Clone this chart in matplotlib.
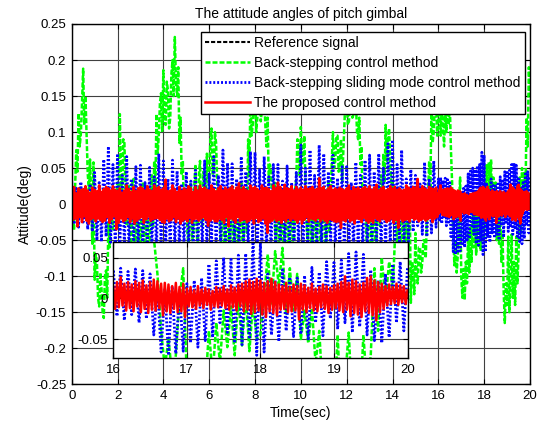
import numpy as np
import matplotlib
matplotlib.use("Agg")
import matplotlib.pyplot as plt

plt.rcParams['font.family'] = ['Liberation Sans', 'DejaVu Sans']
plt.rcParams['font.size'] = 10

# sampling grids (s): coarse part up to 16 s, finer part 16-20 s (zoomed window)
t_red = np.concatenate([np.arange(320) * 0.05, 16 + np.arange(161) * 0.025])
t_blue = np.concatenate([np.arange(160) * 0.1, 16 + np.arange(81) * 0.05])
t_green = np.arange(401) * 0.05

# values in 1e-3 deg
red_main = [
    18, -22, 24, -20, 15, -31, 22, -18, 20, -25,
    21, -17, 25, -23, 19, -27, 16, -21, 23, -19,
    20, -24, 18, -20, 26, -22, 17, -25, 21, -23,
    24, -18, 22, -26, 19, -21, 25, -17, 20, -35,
    18, -26, 22, -20, 16, -24, 19, -22, 26, -18,
    21, -25, 17, -20, 24, -27, 18, -23, 22, -20,
    24, -18, 22, -26, 19, -21, 25, -17, 20, -23,
    18, -21, 26, -20, 22, -19, 24, -22, 20, -25,
    22, -26, 34, -20, 18, -24, 19, -22, 26, -18,
    21, -25, 17, -20, 24, -27, 18, -23, 22, -21,
    20, -24, 25, -19, 22, -26, 17, -21, 24, -20,
    19, -23, 26, -20, 21, -18, 23, -22, 20, -30,
    19, -23, 26, -20, 21, -24, 18, -24, 22, -20,
    25, -22, 19, -26, 23, -18, 20, -31, 22, -20,
    25, -22, 19, -26, 23, -18, 29, -24, 20, -22,
    24, -21, 20, -25, 18, -23, 26, -20, 22, -27,
    24, -19, 21, -25, 18, -23, 26, -20, 22, -27,
    23, -40, 21, -25, 18, -23, 26, -20, 22, -24,
    30, -22, 24, -26, 19, -21, 27, -24, 22, -19,
    21, -23, 25, -20, 19, -22, 24, -26, 20, -21,
    23, -27, 20, -22, 25, -18, 21, -24, 22, -20,
    24, -21, 20, -23, 21, -19, 36, -24, 22, -20,
    24, -23, 19, -26, 22, -21, 25, -22, 20, -24,
    22, -25, 20, -24, 23, -33, 21, -22, 19, -24,
    22, -19, 26, -24, 18, -22, 24, -27, 21, -20,
    23, -21, 20, -25, 22, -19, 24, -23, 21, -26,
    25, -23, 20, -26, 23, -19, 27, -22, 19, -24,
    22, -20, 24, -21, 19, -25, 21, -23, 25, -20,
    21, -26, 24, -22, 20, -33, 22, -20, 19, -24,
    20, -22, 26, -21, 23, -24, 21, -19, 24, -22,
    23, -20, 35, -24, 21, -22, 25, -20, 22, -23,
    20, -21, 24, -19, 22, -25, 21, -20, 23, -18,
]
red_zoom = [
    15, -13, 20, -11, 26, -9, 18, -15, 20, -12,
    17, -16, 21, -10, 19, -17, 22, -13, 16, -18,
    20, -14, 23, -15, 21, -12, 18, -21, 19, -16,
    17, -18, 15, -13, 19, -17, 14, -16, 18, -23,
    12, -10, 14, -11, 10, -13, 15, -9, 11, -12,
    13, -8, 11, -14, 9, -10, 14, -11, 12, -9,
    15, -12, 11, -14, 16, -11, 13, -15, 17, -10,
    18, -16, 21, -14, 23, -19, 20, -17, 24, -15,
    22, -20, 19, -23, 21, -16, 24, -18, 20, -21,
    17, -14, 15, -13, 19, -17, 14, -16, 17, -15,
    15, -26, 18, -14, 16, -17, 13, -12, 18, -15,
    12, -16, 14, -11, 17, -13, 15, -18, 13, -14,
    16, -12, 18, -15, 20, -17, 27, -14, 19, -22,
    23, -18, 21, -20, 17, -23, 19, -16, 25, -18,
    27, -21, 22, -27, 20, -17, 18, -13, 15, -9,
    17, -7, 14, -6, 18, -8, 16, -5, 15, -7,
    10,
]
blue_main = [
    30, -28, 22, -32, 31, -25, 18, -35, 28, -38,
    44, -50, 30, -52, 62, -45, 80, -53, 55, -60,
    70, -62, 40, -58, 66, -64, 35, -57, 52, -66,
    54, -60, 30, -63, 51, -58, 38, -65, 70, -61,
    60, -57, 35, -66, 61, -59, 46, -62, 28, -55,
    45, -60, 32, -58, 47, -63, 25, -56, 60, -61,
    42, -57, 66, -64, 40, -60, 75, -55, 57, -63,
    56, -58, 35, -66, 66, -60, 45, -62, 73, -57,
    72, -64, 48, -59, 66, -61, 38, -67, 55, -60,
    55, -62, 32, -58, 53, -64, 30, -57, 44, -61,
    82, -66, 50, -60, 75, -63, 40, -59, 82, -64,
    70, -61, 45, -58, 68, -63, 36, -60, 52, -66,
    52, -57, 30, -62, 58, -60, 40, -64, 61, -59,
    68, -63, 45, -58, 70, -61, 50, -65, 84, -60,
    89, -62, 55, -57, 75, -60, 35, -52, 48, -38,
    40, -30, 28, -42, 58, -45, 35, -40, 60, -32,
]
blue_zoom = [
    35, -22, 37, -27, 33, -20, 36, -30, 34, -25,
    30, -45, 14, -66, 12, -70, 15, -68, 10, -65,
    18, -55, 22, -60, 25, -52, 42, -48, 46, -30,
    50, -42, 48, -55, 53, -57, 55, -50, 72, -70,
    68, -66, 30, -45, 22, -53, 35, -40, 26, -47,
    25, -44, 28, -50, 38, -30, 32, -46, 45, -25,
    44, -38, 47, -30, 55, -42, 57, -35, 54, -45,
    35, -52, 22, -55, 30, -48, 42, -30, 45, -40,
    38,
]
green_main = [
    -22, -5, -36, 25, 75, 45, 126, 80, 98, 140,
    188, 110, 150, 95, 42, 20, 62, 10, -55, 58,
    -105, -70, -80, -130, -142, -95, -118, -150, -158, -100,
    -92, -130, -25, -60, 15, -20, -35, 5, 10, -30,
    30, -10, 125, 40, 5, 90, 85, 20, -30, 10,
    25, -50, -60, 30, 35, -70, -75, 10, 20, -60,
    -85, 25, 30, -65, -95, 15, 25, -80, -70, 20,
    40, -30, 60, 20, 125, 70, 95, 140, 154, 100,
    186, 120, 110, 170, 158, 105, 120, 180, 200, 150,
    232, 170, 150, 190, 85, 120, 40, 60, -20, 10,
    15, -40, -60, 20, 30, -50, -45, 25, 55, -30,
    -70, 40, 60, -20, -30, 45, 20, -10, 70, 30,
    30, 90, 105, 40, 45, 100, 85, 30, -10, 20,
    -75, -20, 20, -50, -65, 10, 15, -60, -80, 5,
    25, -55, -70, 15, 10, -75, -85, 20, 30, -50,
    -60, 10, 20, -40, 90, 40, 150, 95, 110, 145,
    160, 100, 120, 165, 170, 115, 130, 160, 150, 110,
    80, 120, 30, 55, 45, 0, -10, 30, -70, -20,
    15, -60, -85, 10, 5, -70, -75, 15, 20, -55,
    -90, 10, 10, -65, -60, 20, 35, 90, 80, 40,
    107, 60, 55, 95, 30, -20, -65, 15, 20, -55,
    -80, 10, 15, -60, -70, 20, 25, -50, -60, 15,
    20, -55, -75, 10, 30, -40, 5, 60, 100, 50,
    60, 95, 95, 45, 50, 90, 30, 70, 110, 150,
    150, 110, 115, 160, 160, 120, 125, 155, 145, 100,
    90, 120, 55, 80, -20, 20, 15, -40, -70, 10,
    20, -60, -85, 5, 10, -50, -60, 20, 25, -30,
    40, 0, 70, 30, 110, 60, 90, 105, 60, 20,
    30, -15, -20, 20, -65, -20, 10, -50, -80, 5,
    -30, -70, 20, -40, -60, 10, -137, -80, -90, -125,
    -40, -100, -110, -60, -60, -95, -80, -50, -50, -75,
    -20, 10, 60, 20, 135, 85, 100, 145, 150, 95,
]
green_zoom = [
    120, 150, 95, 140, 110, 80, 130, 100, 145, 110,
    140, 75, 30, -40, -85, -50, -95, -70, 0, 37,
    -100, -130, -90, -133, -80, -110, -40, -95, -30, -80,
    -15, -60, -10, -70, 2, -58, 5, -65, -5, -50,
    -45, 0, 54, -8, 58, 15, 62, -20, 37, -15,
    30, -50, -15, -55, -12, -80, -40, -120, -165, -110,
    -140, -45, -150, -100, -42, -130, -80, -140, -45, -110,
    -70, 37, -40, 50, -4, 45, 10, 120, 80, 190,
    150,
]
labels = ['Reference signal', 'Back-stepping control method',
          'Back-stepping sliding mode control method',
          'The proposed control method']

red = np.array(red_main + red_zoom) * 1e-3
blue = np.array(blue_main + blue_zoom) * 1e-3
green = np.array(green_main + green_zoom) * 1e-3
ref_t = [0, 20]
ref = [0, 0]

fig = plt.figure(figsize=(5.49, 4.23), dpi=100)
ax = fig.add_axes([0.1306, 0.0915, 0.8348, 0.8518])


def draw(a):
    a.plot(ref_t, ref, color='k', lw=1.5, ls=(0, (2, 0.9)), label=labels[0])
    a.plot(t_green, green, color='#00ff00', lw=1.8, ls=(0, (2, 0.8)), label=labels[1])
    a.plot(t_blue, blue, color='#0000ff', lw=2, ls=(0, (0.7, 0.7)), label=labels[2])
    a.plot(t_red, red, color='#ff0000', lw=1.8, label=labels[3])
    a.grid(True, color='0.25', lw=0.8)
    a.tick_params(direction='in', top=True, right=True, length=3.5, labelsize=9.5, pad=4)
    for s in a.spines.values():
        s.set_linewidth(1)


draw(ax)
ax.set_xlim(0, 20)
ax.set_ylim(-0.25, 0.25)
ax.set_xticks(np.arange(0, 21, 2))
yt = [-0.25, -0.2, -0.15, -0.1, -0.05, 0, 0.05, 0.1, 0.15, 0.2, 0.25]
ax.set_yticks(yt)
ax.set_yticklabels(['-0.25', '-0.2', '-0.15', '-0.1', '-0.05', '0', '0.05', '0.1', '0.15', '0.2', '0.25'])
ax.set_title('The attitude angles of pitch gimbal', fontsize=10, pad=4)
ax.set_xlabel('Time(sec)', fontsize=10, labelpad=3)
ax.set_ylabel('Attitude(deg)', fontsize=10, labelpad=3)

leg = ax.legend(loc='upper right', bbox_to_anchor=(0.989, 0.978), borderaxespad=0,
                fancybox=False, framealpha=1, edgecolor='k', fontsize=10,
                handlelength=3.25, handletextpad=0.3, labelspacing=0.42, borderpad=0.3)
leg.get_frame().set_linewidth(1)
leg.set_zorder(10)

# zoomed window 16-20 s
ins = fig.add_axes([0.2064, 0.1537, 0.5359, 0.2742])
ins.set_facecolor('white')
draw(ins)
ins.set_xlim(16, 20)
ins.set_ylim(-0.0733, 0.0692)
ins.set_xticks([16, 17, 18, 19, 20])
ins.set_yticks([-0.05, 0, 0.05])
ins.set_yticklabels(['-0.05', '0', '0.05'])

fig.savefig('out.png', dpi=100)
